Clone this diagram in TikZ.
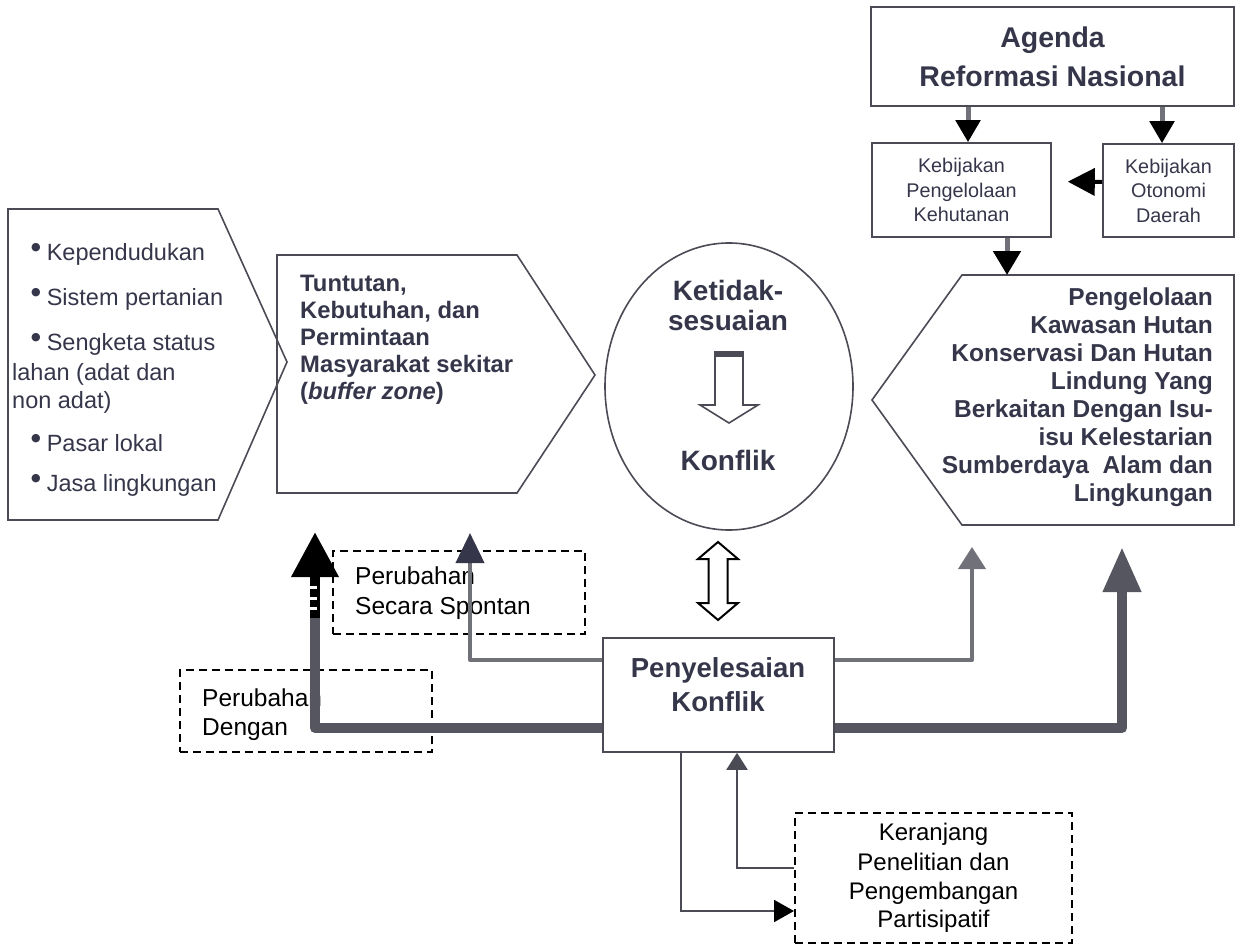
\documentclass[tikz,border=0pt]{standalone}
\usepackage{fontspec}
\setmainfont{Liberation Sans}
\newfontfamily\dejavu{DejaVu Sans}
\usetikzlibrary{arrows.meta,shapes.geometric}
\definecolor{ink}{HTML}{35364A}
\definecolor{edge}{HTML}{4A4B55}
\definecolor{thinc}{HTML}{707179}
\definecolor{thickc}{HTML}{55565F}
\newcommand\fs[2]{\fontsize{#1}{#2}\selectfont}
\newcommand\bul{\hspace*{19pt}\raisebox{10pt}{\dejavu\fs{11}{11}●}\hspace{6pt}}
\begin{document}
\begin{tikzpicture}[x=1pt,y=-1pt,
  outline/.style={draw=edge,line width=1.6pt},
  boldtxt/.style={text=ink,font=\bfseries,inner sep=0pt},
  plaintxt/.style={text=ink,inner sep=0pt},
  labeltxt/.style={text=black,inner sep=0pt},
  dashbox/.style={draw=black,line width=2pt,dash pattern=on 8pt off 5pt},
  thinconn/.style={draw=thinc,line width=4pt,line join=round},
  thickconn/.style={draw=thickc,line width=10pt,line join=round},
  topconn/.style={draw=thinc,line width=5pt}
]
\useasboundingbox (0,0) rectangle (1236,947);

% ---------- top boxes ----------
\node[outline,minimum width=363pt,minimum height=99pt,inner sep=0pt,
      boldtxt,align=center,font=\bfseries\fs{28.5}{39}] (agenda) at (1052.5,56.5)
      {Agenda\\Reformasi Nasional};
\node[outline,minimum width=179pt,minimum height=94pt,inner sep=0pt,
      plaintxt,align=center,font=\fs{19.8}{24.5}] (kp) at (961.5,190)
      {Kebijakan\\Pengelolaan\\Kehutanan};
\node[outline,minimum width=131pt,minimum height=93pt,inner sep=0pt,
      plaintxt,align=center,font=\fs{19.8}{24.5}] (oto) at (1168.5,190.5)
      {Kebijakan\\Otonomi\\Daerah};

% ---------- left pentagon ----------
\draw[outline] (8,209) -- (218,209) -- (287,362) -- (218,520) -- (8,520) -- cycle;
\node[plaintxt,anchor=base west,font=\fs{23.5}{29}] (l1) at (12,260) {\bul Kependudukan};
\node[plaintxt,anchor=base west,font=\fs{23.5}{29}] (l2) at (12,305) {\bul Sistem pertanian};
\node[plaintxt,anchor=base west,font=\fs{23.5}{29}] (l3a) at (12,350) {\bul Sengketa status};
\node[plaintxt,anchor=base west,font=\fs{23.5}{29}] (l3b) at (12,380) {lahan (adat dan};
\node[plaintxt,anchor=base west,font=\fs{23.5}{29}] (l3c) at (12,408) {non adat)};
\node[plaintxt,anchor=base west,font=\fs{23.5}{29}] (l4) at (12,451) {\bul Pasar lokal};
\node[plaintxt,anchor=base west,font=\fs{23.5}{29}] (l5) at (12,491) {\bul Jasa lingkungan};

% ---------- middle pentagon ----------
\draw[outline] (277,255) -- (517,255) -- (595,375) -- (517,493) -- (277,493) -- cycle;
\node[boldtxt,anchor=north west,align=left,font=\bfseries\fs{23.8}{27}] (tun) at (300,274.5)
  {Tuntutan,\\Kebutuhan, dan\\Permintaan\\Masyarakat sekitar\\(\textit{buffer zone})};

% ---------- ellipse ----------
\node[ellipse,outline,minimum width=248pt,minimum height=287pt,inner sep=0pt] (ell) at (729,386.5) {};
\node[boldtxt,align=center,font=\bfseries\fs{28}{30}] (ket) at (728,305) {Ketidak-\\sesuaian};
\node[boldtxt,font=\bfseries\fs{28}{30}] (kon) at (728,460) {Konflik};
\draw[outline,fill=white,line join=miter] (715,352) -- (743,352) -- (743,405) -- (758,405) -- (729,423)
  -- (700,405) -- (715,405) -- cycle;
\fill[edge] (715,352) rectangle (743,357);

% ---------- right pentagon ----------
\draw[outline] (962,275) -- (1234,275) -- (1234,525) -- (962,525) -- (872,400) -- cycle;
\node[boldtxt,anchor=east,align=right,font=\bfseries\fs{24.5}{28}] (peng) at (1213,397.5)
  {Pengelolaan\\Kawasan Hutan\\Konservasi Dan Hutan\\Lindung Yang\\Berkaitan Dengan Isu-\\isu Kelestarian\\Sumberdaya\ \ Alam dan\\Lingkungan};
\coordinate (rpTop) at (1007,275);

% ---------- top connectors ----------
\draw[topconn,-{Triangle[width=24pt,length=22pt,color=black]}]
  ([xshift=6.5pt]kp.north |- agenda.south) -- ([xshift=6.5pt]kp.north);
\draw[topconn,-{Triangle[width=24pt,length=22pt,color=black]}]
  ([xshift=-6.5pt]oto.north |- agenda.south) -- ([xshift=-6.5pt]oto.north);
\draw[draw=black,line width=4pt,-{Triangle[width=27pt,length=27pt]},shorten >=16pt]
  ([yshift=8.5pt]oto.west) -- ([yshift=8.5pt]kp.east);
\draw[topconn,-{Triangle[width=27pt,length=24pt,color=black]}]
  (kp.south -| rpTop) -- (rpTop);

% ---------- conflict resolution box ----------
\node[outline,minimum width=231pt,minimum height=114pt,inner sep=0pt] (pk) at (718.5,695) {};
\node[boldtxt,align=center,font=\bfseries\fs{27.5}{34}] (pkt) at (718,685) {Penyelesaian\\Konflik};

% double hollow arrow between ellipse and box
\draw[draw=black,line width=2pt,fill=white,line join=miter]
  (718,542) -- (738,559) -- (727.5,559) -- (727.5,603) -- (738,603) -- (718,620)
  -- (698,603) -- (708.5,603) -- (708.5,559) -- (698,559) -- cycle;

% ---------- dashed label boxes ----------
\node[dashbox,minimum width=252pt,minimum height=83pt,inner sep=0pt] (sp) at (459,592.5) {};
\node[labeltxt,anchor=west,align=left,font=\fs{24.5}{30}] (spt) at (355,593) {Perubahan\\Secara Spontan};
\node[dashbox,minimum width=252pt,minimum height=82pt,inner sep=0pt] (dg) at (306,711) {};
\node[labeltxt,anchor=west,align=left,font=\fs{24.5}{29}] (dgt) at (202,714.5) {Perubahan\\Dengan};
\node[dashbox,minimum width=277pt,minimum height=130pt,inner sep=0pt,
      labeltxt,align=center,font=\fs{24}{28.5}] (kr) at (933.5,878)
      {Keranjang\\[2pt]Penelitian dan\\Pengembangan\\Partisipatif};

% ---------- flow connectors ----------
\coordinate (tlTip) at (470,533);
\coordinate (trTip) at (972,547);
\coordinate (TLtip) at (315,532);
\coordinate (TRtip) at (1122,547);
\draw[thinconn,-{Triangle[width=28pt,length=30pt,color=ink]}] ([yshift=35pt]pk.west) -| (tlTip);
\draw[thinconn,-{Triangle[width=27pt,length=22pt]}] ([yshift=35pt]pk.east) -| (trTip);
\draw[thickconn,-{Triangle[width=45pt,length=45pt,color=black]}] ([yshift=-33pt]pk.west) -| (TLtip);
\draw[thickconn,-{Triangle[width=36pt,length=45pt]}] ([yshift=-33pt]pk.east) -| (TRtip);
% stripes on the left thick shaft
\fill[black] (310,577) rectangle (320,618);
\fill[white] (310,586) rectangle (317,589);
\fill[white] (310,597) rectangle (317,600);
\fill[white] (310,607) rectangle (317,610);

\draw[draw=edge,line width=2pt,-{Triangle[width=22pt,length=20pt,color=black]}]
  ([xshift=-37.5pt]pk.south) |- ([yshift=-33pt]kr.west);
\draw[draw=edge,line width=2pt,-{Triangle[width=21pt,length=17pt]}]
  ([yshift=10pt]kr.west) -| ([xshift=18.5pt]pk.south);
\end{tikzpicture}
\end{document}
